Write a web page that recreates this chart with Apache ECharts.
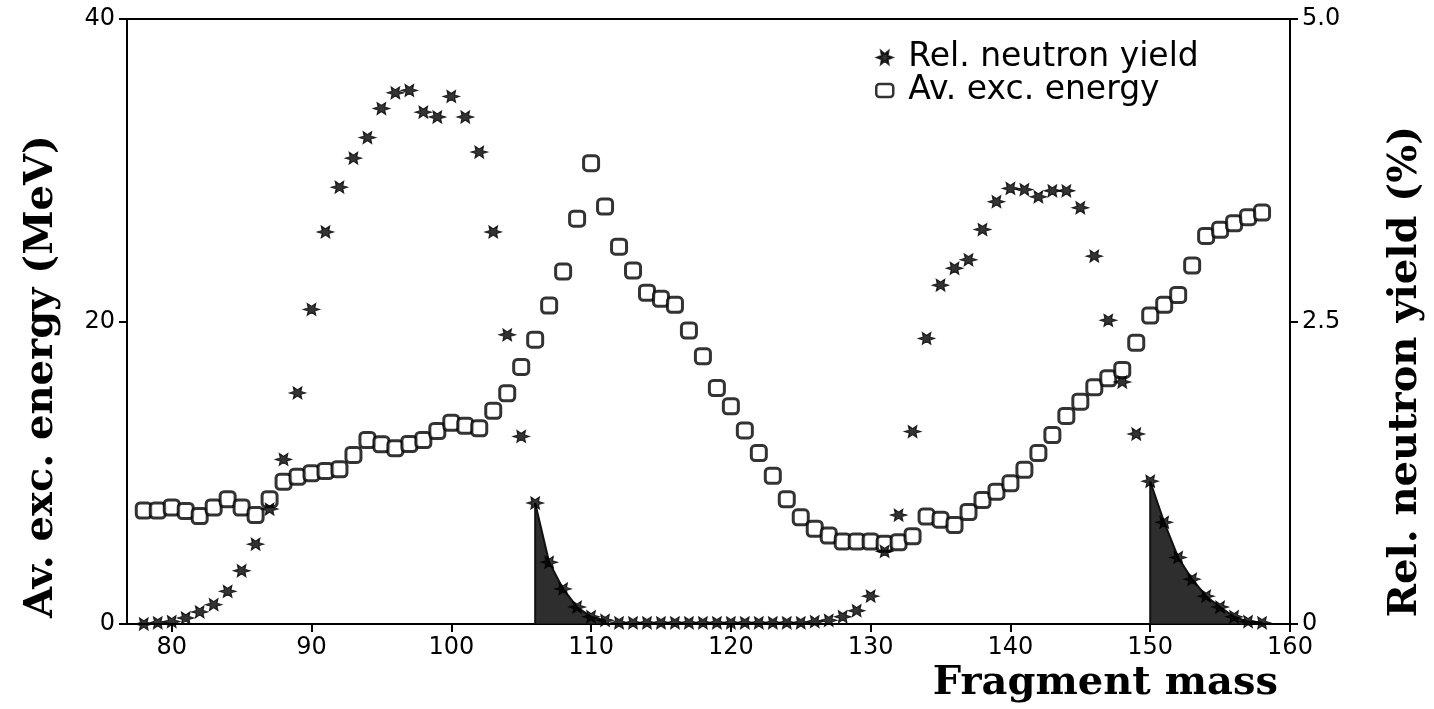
<!DOCTYPE html>
<html>
<head>
<meta charset="utf-8">
<script src="https://cdn.jsdelivr.net/npm/echarts@6/dist/echarts.min.js"></script>
<style>html,body{margin:0;padding:0;background:#fff;}#c{width:1434px;height:709px;}</style>
</head>
<body>
<div id="c"></div>
<script>
// Fragment masses (integer), 78..158
var masses = [];
for (var m = 78; m <= 158; m++) masses.push(m);

// Average excitation energy (MeV), left axis
var excEnergy = [
 7.5, 7.5, 7.7, 7.47, 7.14, 7.7, 8.25, 7.7, 7.2, 8.25,      // 78-87
 9.41, 9.74, 9.97, 10.12, 10.23, 11.18, 12.17, 11.88, 11.62, 11.9, // 88-97
 12.17, 12.76, 13.31, 13.1, 12.94, 14.1, 15.26, 17.0, 18.8, 21.05, // 98-107
 23.3, 26.8, 30.47, 27.6, 24.95, 23.37, 21.9, 21.5, 21.1, 19.4,   // 108-117
 17.7, 15.6, 14.4, 12.8, 11.3, 9.8, 8.25, 7.05, 6.3, 5.85,        // 118-127
 5.45, 5.45, 5.45, 5.3, 5.4, 5.8, 7.1, 6.9, 6.55, 7.4,            // 128-137
 8.2, 8.75, 9.3, 10.2, 11.3, 12.5, 13.76, 14.7, 15.65, 16.25,     // 138-147
 16.8, 18.6, 20.4, 21.1, 21.76, 23.7, 25.66, 26.06, 26.5, 26.9,   // 148-157
 27.2                                                             // 158
];

// Relative neutron yield (%), right axis
var neutronYield = [
 0.0, 0.01, 0.02, 0.05, 0.10, 0.16, 0.27, 0.44, 0.66, 0.95,       // 78-87
 1.36, 1.91, 2.60, 3.24, 3.61, 3.85, 4.02, 4.26, 4.39, 4.41,      // 88-97
 4.23, 4.19, 4.36, 4.19, 3.90, 3.24, 2.39, 1.55, 1.00, 0.51,      // 98-107
 0.29, 0.14, 0.06, 0.03, 0.01, 0.01, 0.01, 0.01, 0.01, 0.01,      // 108-117
 0.01, 0.01, 0.01, 0.01, 0.01, 0.01, 0.01, 0.01, 0.02, 0.03,      // 118-127
 0.06, 0.11, 0.23, 0.60, 0.90, 1.59, 2.36, 2.80, 2.94, 3.01,      // 128-137
 3.26, 3.49, 3.60, 3.59, 3.53, 3.58, 3.58, 3.44, 3.04, 2.51,      // 138-147
 2.00, 1.57, 1.18, 0.84, 0.55, 0.37, 0.23, 0.14, 0.06, 0.02,      // 148-157
 0.01                                                             // 158
];

// Shaded (stippled) regions: first and last mass of each
var shadeStart = [106, 150];
var shadeEnd = [111, 158];

var xTicks = [80, 90, 100, 110, 120, 130, 140, 150, 160];
var leftTicks = [0, 20, 40];
var rightTicks = [0, 2.5, 5.0];

var legendNames = ['Rel. neutron yield', 'Av. exc. energy'];
var xTitle = 'Fragment mass';
var leftTitle = 'Av. exc. energy (MeV)';
var rightTitle = 'Rel. neutron yield (%)';

function asteriskPath() {
  var pts = [];
  var n = 6, ro = 1, ri = 0.45;
  for (var i = 0; i < n * 2; i++) {
    var a = Math.PI * i / n;
    var r = (i % 2 === 0) ? ro : ri;
    pts.push((Math.cos(a) * r).toFixed(3) + ' ' + (Math.sin(a) * r).toFixed(3));
  }
  return 'path://M' + pts.join(' L') + ' Z';
}
var starSym = asteriskPath();

var energyData = masses.map(function (m, i) { return [m, excEnergy[i]]; });
var yieldData = masses.map(function (m, i) { return [m, neutronYield[i]]; });

function shadeData(k) {
  var out = [[shadeStart[k], 0]];
  masses.forEach(function (m, i) {
    if (m >= shadeStart[k] && m <= shadeEnd[k]) out.push([m, neutronYield[i]]);
  });
  out.push([shadeEnd[k], 0]);
  return out;
}

var chart = echarts.init(document.getElementById('c'));
var sans = 'DejaVu Sans';
var serif = 'DejaVu Serif';
chart.setOption({
  animation: false,
  backgroundColor: '#fff',
  grid: { left: 127, right: 141, top: 19, bottom: 85, show: true, borderColor: '#000', borderWidth: 2, backgroundColor: 'transparent' },
  legend: {
    orient: 'vertical', left: 870, top: 36, itemGap: 0,
    itemWidth: 17, itemHeight: 13,
    textStyle: { fontFamily: sans, fontSize: 33, color: '#000', padding: [0, 0, 0, 10] },
    data: [
      { name: legendNames[0], icon: starSym, itemStyle: { color: '#000' } },
      { name: legendNames[1], icon: 'roundRect', itemStyle: { color: '#fff', borderColor: '#000', borderWidth: 2.5 } }
    ]
  },
  xAxis: {
    type: 'value', min: 76.8, max: 160,
    name: xTitle, nameLocation: 'end', nameGap: -12,
    nameTextStyle: { fontFamily: serif, fontWeight: 'bold', fontSize: 40, color: '#000', align: 'right', verticalAlign: 'top', padding: [40, 0, 0, 0] },
    axisLine: { lineStyle: { color: '#000', width: 2 } },
    axisTick: { show: true, length: 8, lineStyle: { color: '#000', width: 2 }, customValues: xTicks },
    axisLabel: { customValues: xTicks, fontFamily: sans, fontSize: 24, color: '#000', margin: 12 },
    splitLine: { show: false }
  },
  yAxis: [
    {
      type: 'value', min: 0, max: 40, interval: 20, position: 'left',
      name: leftTitle, nameLocation: 'middle', nameRotate: 90, nameGap: 65,
      nameTextStyle: { fontFamily: serif, fontWeight: 'bold', fontSize: 40, color: '#000', padding: [0, 110, 0, 0] },
      axisLine: { show: true, lineStyle: { color: '#000', width: 2 } },
      axisTick: { show: true, length: 8, lineStyle: { color: '#000', width: 2 } },
      axisLabel: { fontFamily: sans, fontSize: 24, color: '#000', margin: 12 },
      splitLine: { show: false }
    },
    {
      type: 'value', min: 0, max: 5, interval: 2.5, position: 'right',
      name: rightTitle, nameLocation: 'middle', nameRotate: 90, nameGap: 96,
      nameTextStyle: { fontFamily: serif, fontWeight: 'bold', fontSize: 40, color: '#000', padding: [0, 100, 0, 0] },
      axisLine: { show: true, lineStyle: { color: '#000', width: 2 } },
      axisTick: { show: true, length: 8, lineStyle: { color: '#000', width: 2 } },
      axisLabel: { fontFamily: sans, fontSize: 24, color: '#000', margin: 12,
        formatter: function (v) { return v === 0 ? '0' : v.toFixed(1); } },
      splitLine: { show: false }
    }
  ],
  series: [
    {
      name: 'shade1', type: 'line', yAxisIndex: 1, data: shadeData(0),
      symbol: 'none', lineStyle: { color: '#111', width: 2 },
      areaStyle: { color: '#1c1c1c', opacity: 0.92, origin: 'start' }, z: 1, silent: true
    },
    {
      name: 'shade2', type: 'line', yAxisIndex: 1, data: shadeData(1),
      symbol: 'none', lineStyle: { color: '#111', width: 2 },
      areaStyle: { color: '#1c1c1c', opacity: 0.92, origin: 'start' }, z: 1, silent: true
    },
    {
      name: legendNames[1], type: 'scatter', yAxisIndex: 0, data: energyData,
      symbol: 'roundRect', symbolSize: 15,
      itemStyle: { color: '#fff', borderColor: '#000', borderWidth: 3 }, z: 3
    },
    {
      name: legendNames[0], type: 'scatter', yAxisIndex: 1, data: yieldData,
      symbol: starSym, symbolSize: [17, 12],
      itemStyle: { color: '#000', borderColor: '#000', borderWidth: 1 }, z: 4
    }
  ]
});
</script>
</body>
</html>
